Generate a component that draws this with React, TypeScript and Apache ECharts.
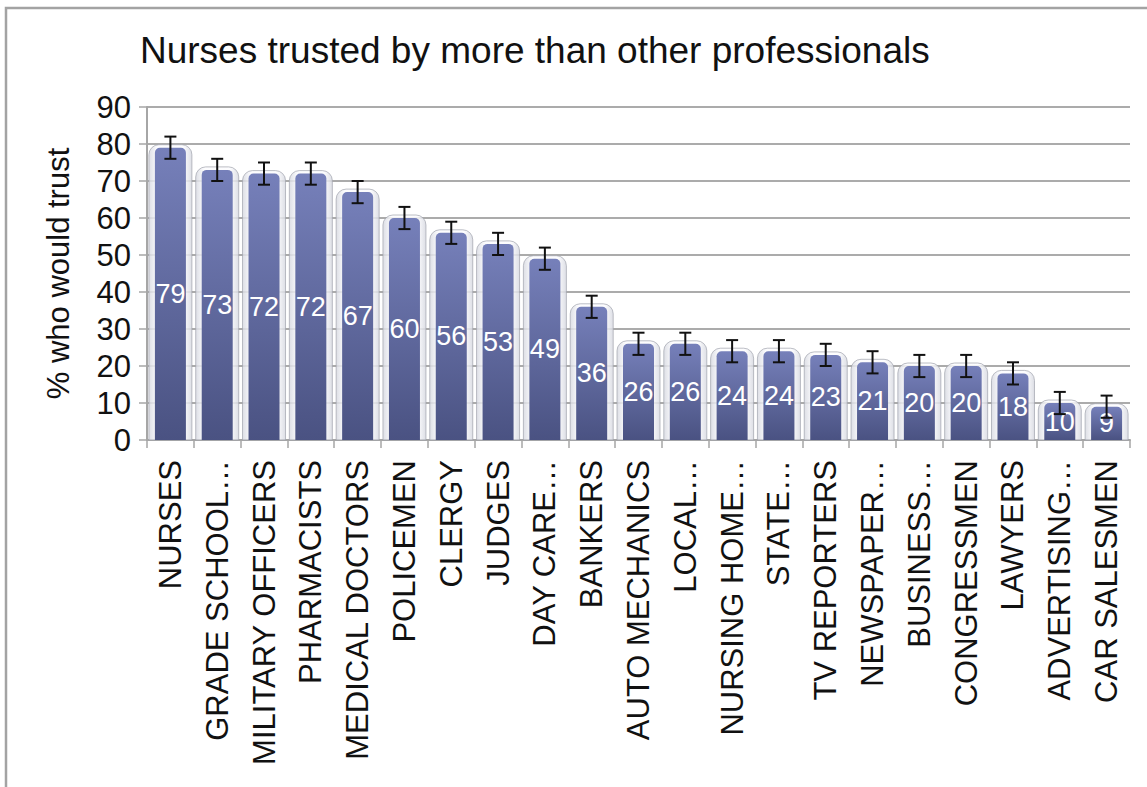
import React, { useEffect, useRef } from "react";
import * as echarts from "echarts";

const titleText = "Nurses trusted by more than other professionals";
const yAxisName = "% who would trust";
const categories = [
  "NURSES",
  "GRADE SCHOOL…",
  "MILITARY OFFICERS",
  "PHARMACISTS",
  "MEDICAL DOCTORS",
  "POLICEMEN",
  "CLERGY",
  "JUDGES",
  "DAY CARE…",
  "BANKERS",
  "AUTO MECHANICS",
  "LOCAL…",
  "NURSING HOME…",
  "STATE…",
  "TV REPORTERS",
  "NEWSPAPER…",
  "BUSINESS…",
  "CONGRESSMEN",
  "LAWYERS",
  "ADVERTISING…",
  "CAR SALESMEN",
];
const values = [79, 73, 72, 72, 67, 60, 56, 53, 49, 36, 26, 26, 24, 24, 23, 21, 20, 20, 18, 10, 9];
const errors = [3, 3, 3, 3, 3, 3, 3, 3, 3, 3, 3, 3, 3, 3, 3, 3, 3, 3, 3, 3, 3];

export default function App() {
  const ref = useRef<HTMLDivElement>(null);
  useEffect(() => {
    document.body.style.margin = "0";
    const chart = echarts.init(ref.current!, null, { renderer: "svg" });
    const font = "'Liberation Sans', Arial, sans-serif";
    const errData = values.map((v, i) => [i, v - errors[i], v + errors[i]]);
    const glowData = values.map((v, i) => [i, v]);
    chart.setOption({
      animation: false,
      backgroundColor: "#ffffff",
      title: {
        text: titleText,
        left: 135,
        top: 27,
        textStyle: { fontFamily: font, fontSize: 37, fontWeight: "normal", color: "#111" },
      },
      graphic: [
        {
          type: "rect",
          shape: { x: 6, y: 8, width: 1300, height: 1000 },
          style: { fill: "none", stroke: "#a3a3a3", lineWidth: 2.5 },
          silent: true,
          z: -1,
        },
      ],
      grid: { left: 147, right: 17, top: 107, bottom: 347 },
      xAxis: {
        type: "category",
        data: categories,
        axisLine: { lineStyle: { color: "#a6a6a6", width: 2 } },
        axisTick: { show: true, length: 8, lineStyle: { color: "#a6a6a6", width: 1.5 } },
        axisLabel: {
          rotate: 90,
          interval: 0,
          margin: 20,
          fontFamily: font,
          fontSize: 31,
          color: "#111",
        },
      },
      yAxis: {
        type: "value",
        min: 0,
        max: 90,
        interval: 10,
        name: yAxisName,
        nameLocation: "middle",
        nameGap: 73,
        nameRotate: 90,
        nameTextStyle: { fontFamily: font, fontSize: 31, color: "#111" },
        axisLine: { show: true, lineStyle: { color: "#a6a6a6", width: 2 } },
        axisTick: { show: true, length: 8, lineStyle: { color: "#a6a6a6", width: 1.5 } },
        axisLabel: { margin: 16, fontFamily: font, fontSize: 31, color: "#111" },
        splitLine: { lineStyle: { color: "#ababab", width: 2 } },
      },
      series: [
        {
          type: "custom",
          data: glowData,
          z: 1,
          silent: true,
          renderItem: (params: any, api: any) => {
            const i = api.value(0);
            const top = api.coord([i, api.value(1)]);
            const base = api.coord([i, 0]);
            const w = 43;
            return {
              type: "rect",
              shape: {
                x: top[0] - w / 2,
                y: top[1] - 3,
                width: w,
                height: base[1] - top[1] + 3,
                r: [10, 10, 0, 0],
              },
              style: {
                fill: new echarts.graphic.LinearGradient(0, 0, 1, 0, [
                  { offset: 0, color: "rgba(215,217,225,0.85)" },
                  { offset: 0.2, color: "rgba(252,252,254,0.85)" },
                  { offset: 0.8, color: "rgba(252,252,254,0.85)" },
                  { offset: 1, color: "rgba(215,217,225,0.85)" },
                ]),
                stroke: "rgba(160,162,172,0.7)",
                lineWidth: 1,
              },
            };
          },
        },
        {
          type: "bar",
          data: values,
          barWidth: 31,
          itemStyle: {
            color: new echarts.graphic.LinearGradient(0, 0, 0, 1, [
              { offset: 0, color: "#7680ba" },
              { offset: 1, color: "#4a5282" },
            ]),
            borderRadius: [5, 5, 0, 0],
          },
          label: {
            show: true,
            position: "inside",
            color: "#ffffff",
            fontFamily: font,
            fontSize: 27,
          },
          z: 2,
        },
        {
          type: "custom",
          data: errData,
          z: 5,
          renderItem: (params: any, api: any) => {
            const i = api.value(0);
            const lo = api.coord([i, api.value(1)]);
            const hi = api.coord([i, api.value(2)]);
            const hw = 6;
            const st = { stroke: "#111", lineWidth: 2 };
            return {
              type: "group",
              children: [
                { type: "line", shape: { x1: lo[0], y1: lo[1], x2: hi[0], y2: hi[1] }, style: st },
                { type: "line", shape: { x1: lo[0] - hw, y1: lo[1], x2: lo[0] + hw, y2: lo[1] }, style: st },
                { type: "line", shape: { x1: hi[0] - hw, y1: hi[1], x2: hi[0] + hw, y2: hi[1] }, style: st },
              ],
            };
          },
        },
      ],
    });
    return () => chart.dispose();
  }, []);
  return <div ref={ref} style={{ width: 1147, height: 787 }} />;
}
